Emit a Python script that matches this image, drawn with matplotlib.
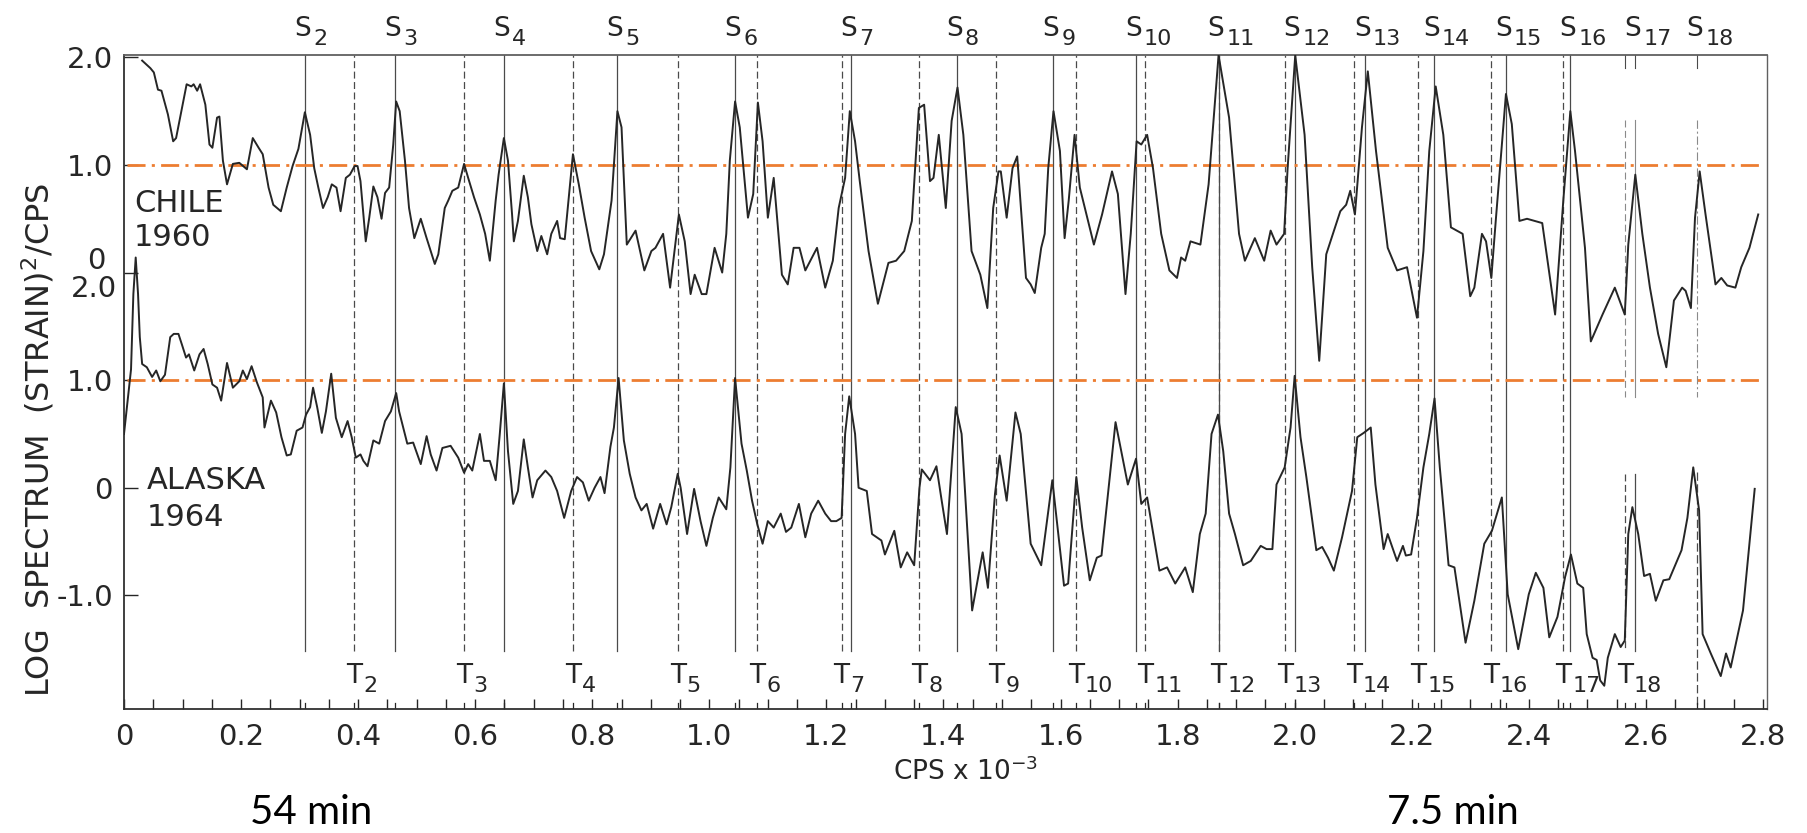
import numpy as np
import matplotlib
matplotlib.use("Agg")
import matplotlib.pyplot as plt
from matplotlib.transforms import offset_copy

# ---------------- data ----------------
s_modes = list(range(2, 19))
s_freq = [0.310, 0.463, 0.649, 0.843, 1.044, 1.242, 1.423, 1.588, 1.729,
          1.870, 2.000, 2.120, 2.238, 2.361, 2.471, 2.582, 2.688]
t_modes = list(range(2, 19))
t_freq = [0.393, 0.581, 0.767, 0.946, 1.082, 1.226, 1.359, 1.490, 1.626,
          1.745, 1.870, 1.983, 2.101, 2.211, 2.335, 2.459, 2.564]

chile_f = [0.031, 0.045, 0.051, 0.058, 0.064, 0.068, 0.075, 0.084, 0.089, 0.098,
           0.107, 0.115, 0.119, 0.125, 0.130, 0.139, 0.146, 0.151, 0.159, 0.163,
           0.169, 0.176, 0.186, 0.197, 0.210, 0.220, 0.230, 0.237, 0.247, 0.255,
           0.268, 0.278, 0.288, 0.298, 0.309, 0.318, 0.325, 0.332, 0.340, 0.348,
           0.355, 0.363, 0.370, 0.379, 0.386, 0.394, 0.399, 0.404, 0.413, 0.419,
           0.426, 0.433, 0.440, 0.446, 0.453, 0.460, 0.465, 0.471, 0.480, 0.487,
           0.496, 0.507, 0.517, 0.531, 0.537, 0.548, 0.554, 0.561, 0.571, 0.581,
           0.588, 0.598, 0.608, 0.617, 0.625, 0.635, 0.640, 0.649, 0.656, 0.663,
           0.666, 0.673, 0.683, 0.690, 0.696, 0.706, 0.713, 0.723, 0.730, 0.740,
           0.745, 0.753, 0.767, 0.777, 0.787, 0.798, 0.812, 0.820, 0.833, 0.843,
           0.850, 0.859, 0.874, 0.889, 0.901, 0.908, 0.921, 0.933, 0.948, 0.958,
           0.968, 0.975, 0.987, 0.995, 1.009, 1.022, 1.029, 1.035, 1.044, 1.052,
           1.066, 1.075, 1.083, 1.091, 1.100, 1.110, 1.124, 1.134, 1.144, 1.154,
           1.164, 1.184, 1.198, 1.211, 1.221, 1.232, 1.240, 1.249, 1.257, 1.272,
           1.288, 1.306, 1.319, 1.333, 1.346, 1.358, 1.367, 1.377, 1.383, 1.392,
           1.404, 1.414, 1.424, 1.434, 1.448, 1.463, 1.475, 1.485, 1.494, 1.498,
           1.508, 1.518, 1.526, 1.541, 1.549, 1.556, 1.567, 1.573, 1.579, 1.588,
           1.599, 1.607, 1.614, 1.624, 1.633, 1.657, 1.671, 1.688, 1.698, 1.711,
           1.720, 1.730, 1.738, 1.748, 1.758, 1.772, 1.786, 1.799, 1.806, 1.813,
           1.822, 1.839, 1.853, 1.870, 1.888, 1.905, 1.915, 1.932, 1.948, 1.959,
           1.969, 1.982, 1.988, 2.001, 2.017, 2.030, 2.042, 2.054, 2.078, 2.088,
           2.095, 2.103, 2.115, 2.125, 2.139, 2.159, 2.175, 2.192, 2.209, 2.220,
           2.230, 2.241, 2.254, 2.267, 2.287, 2.300, 2.307, 2.320, 2.327, 2.336,
           2.344, 2.361, 2.371, 2.384, 2.397, 2.423, 2.445, 2.459, 2.471, 2.479,
           2.496, 2.506, 2.526, 2.547, 2.564, 2.570, 2.582, 2.594, 2.607, 2.621,
           2.635, 2.648, 2.662, 2.668, 2.677, 2.684, 2.692, 2.702, 2.719, 2.729,
           2.739, 2.753, 2.763, 2.777, 2.792]
chile_log = [1.97, 1.90, 1.86, 1.70, 1.69, 1.61, 1.47, 1.22, 1.25, 1.50,
             1.75, 1.73, 1.75, 1.69, 1.75, 1.56, 1.19, 1.16, 1.44, 1.45,
             1.04, 0.82, 1.01, 1.02, 0.96, 1.25, 1.16, 1.10, 0.79, 0.63,
             0.57, 0.79, 0.99, 1.15, 1.49, 1.28, 0.97, 0.79, 0.60, 0.70,
             0.82, 0.79, 0.57, 0.88, 0.91, 0.99, 0.99, 0.85, 0.29, 0.51,
             0.80, 0.70, 0.50, 0.74, 0.79, 1.19, 1.59, 1.50, 1.04, 0.60,
             0.32, 0.50, 0.32, 0.08, 0.17, 0.60, 0.67, 0.76, 0.79, 1.01,
             0.88, 0.70, 0.54, 0.36, 0.11, 0.67, 0.91, 1.25, 1.04, 0.54,
             0.29, 0.48, 0.90, 0.70, 0.45, 0.20, 0.34, 0.17, 0.36, 0.48,
             0.32, 0.31, 1.10, 0.82, 0.51, 0.20, 0.03, 0.17, 0.67, 1.50,
             1.35, 0.26, 0.39, 0.02, 0.20, 0.23, 0.36, -0.14, 0.54, 0.29,
             -0.20, -0.02, -0.20, -0.20, 0.23, 0.00, 0.36, 1.04, 1.59, 1.35,
             0.51, 0.73, 1.58, 1.22, 0.51, 0.88, -0.02, -0.11, 0.23, 0.23,
             0.02, 0.23, -0.14, 0.11, 0.60, 0.88, 1.50, 1.22, 0.85, 0.20,
             -0.29, 0.09, 0.11, 0.20, 0.48, 1.53, 1.56, 0.85, 0.88, 1.28,
             0.60, 1.41, 1.72, 1.28, 0.20, -0.02, -0.33, 0.60, 0.94, 0.94,
             0.51, 0.97, 1.08, -0.05, -0.11, -0.19, 0.23, 0.36, 0.97, 1.50,
             1.13, 0.32, 0.67, 1.28, 0.79, 0.26, 0.54, 0.94, 0.73, -0.20,
             0.36, 1.22, 1.19, 1.28, 0.97, 0.36, 0.02, -0.05, 0.14, 0.11,
             0.29, 0.26, 0.82, 2.02, 1.44, 0.36, 0.11, 0.32, 0.11, 0.39,
             0.26, 0.36, 0.97, 2.02, 1.28, 0.05, -0.82, 0.17, 0.57, 0.63,
             0.76, 0.54, 1.35, 1.87, 1.13, 0.23, 0.02, 0.05, -0.42, 0.20,
             1.13, 1.73, 1.28, 0.42, 0.36, -0.22, -0.14, 0.36, 0.29, -0.05,
             0.51, 1.66, 1.38, 0.48, 0.50, 0.46, -0.39, 0.67, 1.50, 1.13,
             0.23, -0.64, -0.39, -0.14, -0.39, 0.26, 0.91, 0.36, -0.14, -0.57,
             -0.88, -0.26, -0.14, -0.17, -0.33, 0.51, 0.94, 0.54, -0.11, -0.05,
             -0.12, -0.14, 0.05, 0.23, 0.54]

alaska_f = [0.000, 0.007, 0.012, 0.016, 0.020, 0.024, 0.027, 0.031, 0.039, 0.048,
            0.055, 0.062, 0.070, 0.079, 0.085, 0.093, 0.099, 0.106, 0.111, 0.120,
            0.129, 0.136, 0.143, 0.151, 0.159, 0.166, 0.176, 0.186, 0.197, 0.203,
            0.210, 0.218, 0.227, 0.237, 0.240, 0.251, 0.260, 0.269, 0.278, 0.285,
            0.295, 0.305, 0.311, 0.318, 0.323, 0.330, 0.338, 0.345, 0.354, 0.362,
            0.372, 0.382, 0.389, 0.396, 0.404, 0.409, 0.416, 0.426, 0.436, 0.446,
            0.456, 0.465, 0.470, 0.484, 0.494, 0.507, 0.517, 0.524, 0.534, 0.544,
            0.558, 0.571, 0.581, 0.588, 0.595, 0.608, 0.615, 0.625, 0.635, 0.642,
            0.649, 0.656, 0.665, 0.673, 0.683, 0.690, 0.698, 0.706, 0.720, 0.730,
            0.740, 0.752, 0.764, 0.774, 0.784, 0.794, 0.804, 0.814, 0.821, 0.831,
            0.837, 0.845, 0.854, 0.864, 0.874, 0.884, 0.893, 0.904, 0.916, 0.927,
            0.935, 0.946, 0.951, 0.962, 0.974, 0.985, 0.995, 1.006, 1.016, 1.029,
            1.036, 1.044, 1.055, 1.064, 1.073, 1.082, 1.091, 1.100, 1.110, 1.122,
            1.131, 1.140, 1.153, 1.164, 1.174, 1.186, 1.198, 1.208, 1.217, 1.226,
            1.232, 1.239, 1.249, 1.255, 1.269, 1.278, 1.294, 1.300, 1.316, 1.327,
            1.338, 1.350, 1.359, 1.363, 1.377, 1.388, 1.397, 1.406, 1.421, 1.431,
            1.449, 1.467, 1.476, 1.488, 1.496, 1.508, 1.523, 1.532, 1.549, 1.567,
            1.586, 1.606, 1.613, 1.627, 1.637, 1.650, 1.662, 1.670, 1.694, 1.715,
            1.729, 1.738, 1.748, 1.769, 1.782, 1.796, 1.813, 1.826, 1.838, 1.848,
            1.858, 1.869, 1.878, 1.888, 1.898, 1.912, 1.925, 1.942, 1.952, 1.962,
            1.969, 1.983, 1.993, 2.000, 2.010, 2.020, 2.037, 2.047, 2.057, 2.067,
            2.081, 2.098, 2.107, 2.118, 2.130, 2.138, 2.152, 2.159, 2.175, 2.185,
            2.190, 2.199, 2.209, 2.220, 2.230, 2.239, 2.248, 2.263, 2.273, 2.292,
            2.307, 2.324, 2.337, 2.354, 2.364, 2.382, 2.400, 2.412, 2.425, 2.435,
            2.449, 2.462, 2.472, 2.483, 2.493, 2.499, 2.509, 2.516, 2.522, 2.529,
            2.535, 2.547, 2.557, 2.564, 2.570, 2.577, 2.587, 2.597, 2.607, 2.617,
            2.630, 2.640, 2.661, 2.671, 2.681, 2.691, 2.697, 2.711, 2.728, 2.737,
            2.745, 2.766, 2.786]
alaska_log = [0.50, 0.85, 1.10, 1.80, 2.14, 1.80, 1.40, 1.15, 1.12, 1.03,
              1.09, 0.99, 1.05, 1.40, 1.43, 1.43, 1.33, 1.21, 1.24, 1.09,
              1.24, 1.29, 1.15, 0.96, 0.93, 0.81, 1.16, 0.93, 0.99, 1.09,
              1.01, 1.13, 0.98, 0.84, 0.56, 0.81, 0.70, 0.47, 0.30, 0.31,
              0.53, 0.56, 0.68, 0.75, 0.93, 0.75, 0.51, 0.71, 1.06, 0.65,
              0.47, 0.62, 0.47, 0.28, 0.31, 0.25, 0.20, 0.44, 0.41, 0.62,
              0.71, 0.88, 0.71, 0.41, 0.42, 0.22, 0.48, 0.31, 0.16, 0.37,
              0.39, 0.28, 0.14, 0.22, 0.16, 0.50, 0.25, 0.25, 0.07, 0.50,
              0.97, 0.34, -0.15, -0.03, 0.45, 0.19, -0.09, 0.07, 0.16, 0.10,
              -0.03, -0.28, -0.03, 0.10, 0.05, -0.12, 0.00, 0.10, -0.05, 0.38,
              0.56, 1.02, 0.44, 0.13, -0.09, -0.21, -0.15, -0.38, -0.15, -0.34,
              -0.18, 0.13, 0.00, -0.43, -0.01, -0.31, -0.54, -0.28, -0.09, -0.20,
              0.19, 1.02, 0.41, 0.16, -0.12, -0.34, -0.52, -0.31, -0.37, -0.24,
              -0.41, -0.37, -0.15, -0.46, -0.24, -0.12, -0.24, -0.31, -0.31, -0.28,
              0.50, 0.85, 0.50, 0.00, -0.03, -0.43, -0.49, -0.62, -0.40, -0.74,
              -0.60, -0.72, 0.00, 0.17, 0.07, 0.20, -0.12, -0.43, 0.75, 0.50,
              -1.14, -0.60, -0.93, -0.06, 0.30, -0.12, 0.70, 0.50, -0.52, -0.72,
              0.07, -0.91, -0.89, 0.10, -0.37, -0.86, -0.65, -0.63, 0.61, 0.03,
              0.27, -0.15, -0.09, -0.77, -0.74, -0.89, -0.74, -0.97, -0.43, -0.24,
              0.50, 0.68, 0.34, -0.24, -0.43, -0.72, -0.68, -0.54, -0.57, -0.57,
              0.03, 0.19, 0.56, 1.04, 0.47, 0.10, -0.58, -0.55, -0.65, -0.77,
              -0.46, -0.03, 0.47, 0.51, 0.56, 0.03, -0.57, -0.43, -0.68, -0.54,
              -0.63, -0.62, -0.28, 0.19, 0.50, 0.83, 0.19, -0.72, -0.74, -1.44,
              -1.05, -0.52, -0.40, -0.09, -0.99, -1.50, -0.99, -0.79, -0.93, -1.39,
              -1.20, -0.83, -0.62, -0.89, -0.93, -1.36, -1.58, -1.60, -1.79, -1.84,
              -1.58, -1.36, -1.48, -1.42, -0.43, -0.18, -0.43, -0.82, -0.80, -1.05,
              -0.86, -0.85, -0.58, -0.28, 0.19, -0.21, -1.36, -1.54, -1.75, -1.54,
              -1.67, -1.14, -0.01]

x_ticks = [0.0, 0.2, 0.4, 0.6, 0.8, 1.0, 1.2, 1.4, 1.6, 1.8, 2.0, 2.2, 2.4, 2.6, 2.8]
x_tick_labels = ["0", "0.2", "0.4", "0.6", "0.8", "1.0", "1.2", "1.4", "1.6",
                 "1.8", "2.0", "2.2", "2.4", "2.6", "2.8"]
y_ticks = [-1.0, 0.0, 1.0, 2.0, 3.0, 4.0]
y_tick_labels = ["-1.0", "0", "1.0", "", "1.0", "2.0"]
ref_level = 1.0          # orange dash-dot reference level (log units)
chile_offset = 2.0       # Chile trace drawn 2 decades above Alaska

# ---------------- style ----------------
plt.rcParams['lines.scale_dashes'] = False
INK = '#262626'
GRID = '#4a4a4a'
ORANGE = '#ED7D31'
W, H = 1808, 833

fig = plt.figure(figsize=(W / 100, H / 100), dpi=100)
ax_l, ax_r, ax_t, ax_b = 124, 1767, 55, 709
ax = fig.add_axes([ax_l / W, 1 - ax_b / H, (ax_r - ax_l) / W, (ax_b - ax_t) / H])
ymin, ymax = -2.056, 4.022
ax.set_xlim(0, 2.807)
ax.set_ylim(ymin, ymax)

for sp in ax.spines.values():
    sp.set_color('#303030')
    sp.set_linewidth(1.3)
ax.spines['top'].set_color('#606060')
ax.spines['right'].set_color('#606060')
ax.spines['right'].set_linewidth(1.0)

ax.set_xticks(x_ticks)
ax.set_xticklabels(x_tick_labels)
ax.set_xticks(np.arange(0, 2.81, 0.05), minor=True)
ax.tick_params(axis='x', which='both', direction='in', length=7, width=1.0,
               colors=INK, labelsize=21, pad=10)
ax.set_yticks(y_ticks)
ax.set_yticklabels(y_tick_labels)
ax.tick_params(axis='y', which='both', direction='in', length=10, width=1.0,
               colors=INK, labelsize=21, pad=8)

# overlapping labels at the junction of the two panels
ytr = ax.get_yaxis_transform()
ax.text(-0.011, 2.0 + 0.11, "0", transform=ytr, ha='right', va='center',
        fontsize=21, color=INK)
ax.text(-0.004, 2.0 - 0.15, "2.0", transform=ytr, ha='right', va='center',
        fontsize=21, color=INK)

# orange reference lines
for lvl in (ref_level + chile_offset, ref_level):
    ax.axhline(lvl, xmin=0.002, xmax=0.996, color=ORANGE, lw=2.0,
               linestyle=(0, (13, 4.5, 2.2, 4.5)), zorder=3)

# mode lines
line_bot = -1.52
special = {2.582, 2.564, 2.688}
for f in s_freq:
    if f in special:
        continue
    ax.plot([f, f], [line_bot, ymax], color=GRID, lw=0.9, zorder=1)
for f in t_freq:
    if f in special:
        continue
    ax.plot([f, f], [line_bot, ymax], color=GRID, lw=0.9,
            linestyle=(0, (5, 2.5)), zorder=1)
# the high-order lines drawn only in pieces
for f, ls in ((s_freq[15], '-'), (t_freq[16], (0, (5, 2.5))), (s_freq[16], (0, (6, 2, 1.5, 2)))):
    ax.plot([f, f], [ymax, ymax - 0.12], color=GRID, lw=0.8, linestyle='-', zorder=1)
    ax.plot([f, f], [3.42, 0.84], color='#8a8a8a', lw=0.8, linestyle=ls, zorder=1)
for f, ls in ((s_freq[15], '-'), (t_freq[16], (0, (5, 2.5)))):
    ax.plot([f, f], [0.13, line_bot], color=GRID, lw=0.9, linestyle=ls, zorder=1)
ax.plot([s_freq[16]] * 2, [0.15, ymin], color=GRID, lw=0.9,
        linestyle=(0, (6, 2.5)), zorder=1)

# small ticks at the base of every mode line
for f in s_freq + t_freq:
    ax.plot([f, f], [ymin, ymin + 0.06], color=INK, lw=0.9, zorder=1)

# spectra
ax.plot(chile_f, np.array(chile_log) + chile_offset, color=INK, lw=1.4, zorder=4)
ax.plot(alaska_f, alaska_log, color=INK, lw=1.4, zorder=4)

# mode labels
xtr = ax.get_xaxis_transform()
s_base = (ax_b - 36) / (ax_b - ax_t)
t_base = (ax_b - 683) / (ax_b - ax_t)
for n, f in zip(s_modes, s_freq):
    ax.text(f, s_base, "S", transform=offset_copy(xtr, fig=fig, x=-11, y=0, units='dots'),
            ha='left', va='baseline', fontsize=19, color=INK)
    ax.text(f, s_base, str(n), transform=offset_copy(xtr, fig=fig, x=8, y=-9, units='dots'),
            ha='left', va='baseline', fontsize=16, color=INK)
for n, f in zip(t_modes, t_freq):
    ax.text(f, t_base, "T", transform=offset_copy(xtr, fig=fig, x=-8, y=0, units='dots'),
            ha='left', va='baseline', fontsize=19, color=INK)
    ax.text(f, t_base, str(n), transform=offset_copy(xtr, fig=fig, x=9, y=-9, units='dots'),
            ha='left', va='baseline', fontsize=16, color=INK)

# event labels
ax.text(0.017, 2.64, "CHILE", ha='left', va='center', fontsize=22, color=INK)
ax.text(0.017, 2.33, "1960", ha='left', va='center', fontsize=22, color=INK)
ax.text(0.039, 0.07, "ALASKA", ha='left', va='center', fontsize=22, color=INK)
ax.text(0.039, -0.28, "1964", ha='left', va='center', fontsize=22, color=INK)

# axis titles
fig.text(38 / W, 1 - 440 / H, "LOG  SPECTRUM  (STRAIN)$^{2}$/CPS", rotation=90,
         ha='center', va='center', fontsize=23, color=INK)
fig.text(965 / W, 1 - 772 / H, "CPS x 10$^{-3}$", ha='center', va='center',
         fontsize=19, color=INK)

# period annotations
fig.text(311 / W, 1 - 813 / H, "54 min", ha='center', va='center',
         fontsize=29, color='black', family=['Lato', 'DejaVu Sans'])
fig.text(1453 / W, 1 - 813 / H, "7.5 min", ha='center', va='center',
         fontsize=29, color='black', family=['Lato', 'DejaVu Sans'])

fig.savefig("out.png", dpi=100, facecolor='white')
